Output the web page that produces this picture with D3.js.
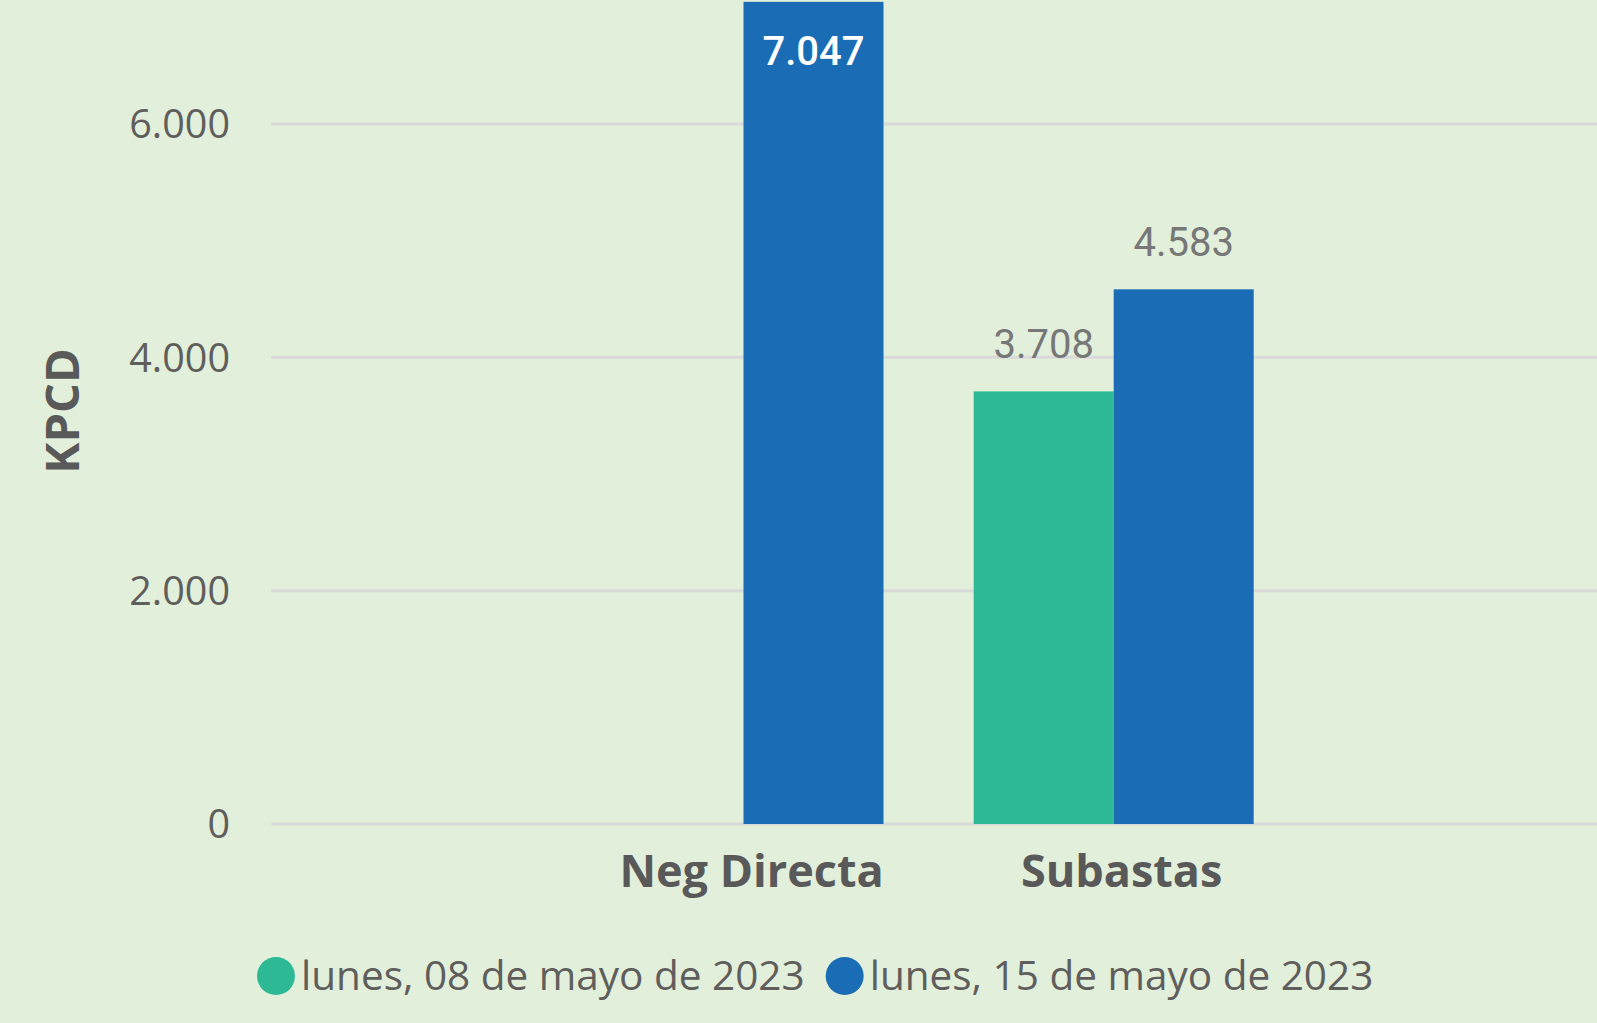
<!DOCTYPE html>
<html lang="es">
<head>
  <meta charset="UTF-8">
  <title>KPCD por tipo de negociación</title>
  <script src="https://cdn.jsdelivr.net/npm/d3@7"></script>
  <style>
    html, body { margin: 0; padding: 0; background: #e2efda; overflow: hidden; }
    svg { display: block; }
  </style>
</head>
<body>
  <div id="chart"></div>
  <script>
    // data
    const categories = ["Neg Directa", "Subastas"];
    const seriesNames = ["lunes, 08 de mayo de 2023", "lunes, 15 de mayo de 2023"];
    const seriesColors = ["#2cb993", "#1a6cb4"];
    const may08 = [null, 3708];
    const may15 = [7047, 4583];
    const yTicks = [0, 2000, 4000, 6000];

    const width = 1597, height = 1023;
    const plotLeft = 271, plotRight = 1597;
    const plotBottom = 824, plotTop6000 = 124;

    const fmt = v => d3.format(",")(v).replace(/,/g, ".");

    const svg = d3.select("#chart").append("svg")
      .attr("width", width)
      .attr("height", height);

    svg.append("rect").attr("width", width).attr("height", height).attr("fill", "#e2efda");

    // scales
    const y = d3.scaleLinear().domain([0, 6000]).range([plotBottom, plotTop6000]);

    const x0 = d3.scaleBand()
      .domain(categories)
      .range([plotLeft - 5.4, plotRight - 5.4])
      .paddingInner(0.2437)
      .paddingOuter(0.9128);

    const x1 = d3.scaleBand()
      .domain(seriesNames)
      .range([0, x0.bandwidth()]);

    // gridlines
    svg.append("g")
      .selectAll("line")
      .data(yTicks)
      .join("line")
      .attr("x1", plotLeft)
      .attr("x2", plotRight)
      .attr("y1", d => y(d))
      .attr("y2", d => y(d))
      .attr("stroke", "#d9d9d9")
      .attr("stroke-width", 3);

    // y axis labels
    svg.append("g")
      .call(d3.axisLeft(y).tickValues(yTicks).tickFormat(fmt).tickSize(0).tickPadding(0))
      .attr("transform", "translate(230,0)")
      .call(g => g.select(".domain").remove())
      .selectAll("text")
      .attr("dy", "0.35em")
      .style("font-family", "'Open Sans', sans-serif")
      .style("font-size", "39.5px")
      .style("fill", "#605e5c");

    // y axis title
    svg.append("text")
      .attr("transform", "translate(63,411) rotate(-90)")
      .attr("text-anchor", "middle")
      .attr("dy", "0.35em")
      .style("font-family", "'Open Sans', sans-serif")
      .style("font-weight", "bold")
      .style("font-size", "47px")
      .style("fill", "#595959")
      .text("KPCD");

    // bars
    const rows = categories.map((c, i) => ({
      category: c,
      values: [may08[i], may15[i]]
    }));

    const groups = svg.append("g")
      .selectAll("g")
      .data(rows)
      .join("g")
      .attr("transform", d => `translate(${x0(d.category)},0)`);

    const bars = groups.selectAll("g")
      .data(d => d.values.map((v, j) => ({ v, j })).filter(e => e.v != null))
      .join("g");

    bars.append("rect")
      .attr("x", d => x1(seriesNames[d.j]))
      .attr("width", x1.bandwidth())
      .attr("y", d => Math.max(y(d.v), 0))
      .attr("height", d => plotBottom - Math.max(y(d.v), 0))
      .attr("fill", d => seriesColors[d.j]);

    // data labels: inside when bar runs off the top, above otherwise
    const inside = d => y(d.v) < 60;
    bars.append("text")
      .attr("x", d => x1(seriesNames[d.j]) + x1.bandwidth() / 2)
      .attr("y", d => inside(d) ? 65 : y(d.v) - 33)
      .attr("text-anchor", "middle")
      .style("font-family", "Roboto, sans-serif")
      .style("font-size", "40px")
      .style("font-weight", d => inside(d) ? 500 : 400)
      .style("fill", d => inside(d) ? "#ffffff" : "#777777")
      .text(d => fmt(d.v));

    // category labels
    svg.append("g")
      .selectAll("text")
      .data(categories)
      .join("text")
      .attr("x", d => x0(d) + x0.bandwidth() / 2 + 8)
      .attr("y", 871)
      .attr("dy", "0.35em")
      .attr("text-anchor", "middle")
      .style("font-family", "'Open Sans', sans-serif")
      .style("font-weight", "bold")
      .style("font-size", "45px")
      .style("fill", "#595959")
      .text(d => d);

    // legend
    const legend = svg.append("g").attr("transform", "translate(257,976)");
    let lx = 0;
    seriesNames.forEach((name, i) => {
      legend.append("circle")
        .attr("cx", lx + 19)
        .attr("cy", 0)
        .attr("r", 19)
        .attr("fill", seriesColors[i]);
      const t = legend.append("text")
        .attr("x", lx + 44)
        .attr("y", 0)
        .attr("dy", "0.35em")
        .style("font-family", "'Open Sans', sans-serif")
        .style("font-size", "40.5px")
        .style("fill", "#605e5c")
        .text(name);
      lx += 44 + t.node().getComputedTextLength() + 21;
    });
  </script>
</body>
</html>
